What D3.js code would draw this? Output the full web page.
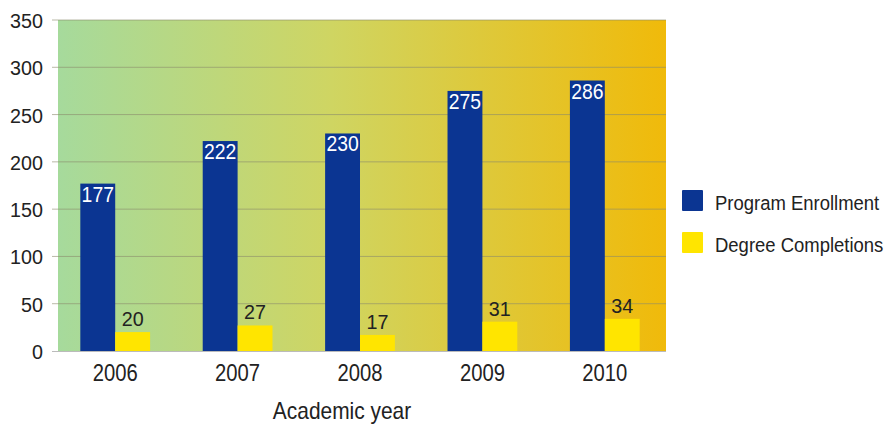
<!DOCTYPE html>
<html><head><meta charset="utf-8">
<script src="https://cdn.jsdelivr.net/npm/d3@7"></script>
<style>body{margin:0;background:#fff;} svg{display:block;}</style>
</head><body>
<svg id="c" width="885" height="424"></svg>
<script>
const years = ["2006","2007","2008","2009","2010"];
const enrollment = [177,222,230,275,286];
const completions = [20,27,17,31,34];
const yTicks = [0,50,100,150,200,250,300,350];
const seriesNames = ["Program Enrollment","Degree Completions"];
const seriesColors = ["#0b3592","#ffe500"];

const svg = d3.select("#c");
const font = "'Liberation Sans', Arial, sans-serif";
const plotL = 58, plotR = 666, plotT = 20, plotB = 351;

const defs = svg.append("defs");
const g = defs.append("linearGradient").attr("id","bg").attr("x1","0").attr("x2","1").attr("y1","0").attr("y2","0");
g.append("stop").attr("offset","0").attr("stop-color","#a6da9c");
g.append("stop").attr("offset","0.45").attr("stop-color","#cfd562");
g.append("stop").attr("offset","1").attr("stop-color","#f0ba0a");

svg.append("rect").attr("x",plotL).attr("y",plotT).attr("width",plotR-plotL).attr("height",plotB-plotT).attr("fill","url(#bg)");

const x = d3.scaleBand().domain(years).range([54,666]).paddingInner(0.43).paddingOuter(0.215);
const xs = d3.scaleBand().domain([0,1]).range([0,x.bandwidth()]);
const y = d3.scaleLinear().domain([0,350]).range([plotB,plotT]);

// gridlines
svg.append("g").selectAll("line").data(yTicks.filter(d=>d>0)).join("line")
  .attr("x1",52).attr("x2",plotR).attr("y1",d=>y(d)).attr("y2",d=>y(d))
  .attr("stroke","#8a8a6a").attr("stroke-opacity",0.6).attr("stroke-width",1);

// y axis
const yAxis = d3.axisLeft(y).tickValues(yTicks).tickSize(0).tickPadding(0);
const ya = svg.append("g").attr("transform",`translate(${43},0)`).call(yAxis);
ya.select(".domain").remove();
ya.selectAll("text").attr("font-family",font).attr("font-size",21).attr("fill","#222")
  .attr("dy","0.36em").attr("transform","scale(0.94,1)");

// bars
const grp = svg.append("g").selectAll("g").data(years).join("g").attr("transform",d=>`translate(${x(d)},0)`);
grp.append("rect").attr("x",xs(0)).attr("width",xs.bandwidth())
  .attr("y",(d,i)=>y(enrollment[i])).attr("height",(d,i)=>y(0)-y(enrollment[i])).attr("fill",seriesColors[0]);
grp.append("rect").attr("x",xs(1)).attr("width",xs.bandwidth())
  .attr("y",(d,i)=>y(completions[i])).attr("height",(d,i)=>y(0)-y(completions[i])).attr("fill",seriesColors[1]);
grp.append("text")
  .attr("transform",(d,i)=>`translate(${xs(0)+xs.bandwidth()/2},${y(enrollment[i])+18}) scale(0.88,1)`)
  .attr("text-anchor","middle").attr("font-family",font).attr("font-size",22).attr("fill","#fff")
  .text((d,i)=>enrollment[i]);
grp.append("text")
  .attr("transform",(d,i)=>`translate(${xs(1)+xs.bandwidth()/2},${y(completions[i])-6}) scale(0.94,1)`)
  .attr("text-anchor","middle").attr("font-family",font).attr("font-size",21).attr("fill","#222")
  .text((d,i)=>completions[i]);

// x axis
svg.append("line").attr("x1",52).attr("x2",plotR).attr("y1",plotB+0.5).attr("y2",plotB+0.5).attr("stroke","#bbb");
const xAxis = d3.axisBottom(x).tickSize(0).tickPadding(0);
const xa = svg.append("g").attr("transform",`translate(0,${plotB+14})`).call(xAxis);
xa.select(".domain").remove();
xa.selectAll("text").attr("font-family",font).attr("font-size",23).attr("fill","#222")
  .attr("dy","0.71em").attr("transform","scale(0.88,1)");

svg.append("text").attr("transform","translate(342,419) scale(0.91,1)").attr("text-anchor","middle")
  .attr("font-family",font).attr("font-size",23).attr("fill","#222").text("Academic year");

// legend
const lg = svg.append("g").selectAll("g").data(seriesNames).join("g")
  .attr("transform",(d,i)=>`translate(682,${190+i*42})`);
lg.append("rect").attr("width",21).attr("height",21).attr("rx",1).attr("fill",(d,i)=>seriesColors[i]);
lg.append("text").attr("transform","translate(33,20) scale(0.88,1)").attr("font-family",font).attr("font-size",21)
  .attr("fill","#222").text(d=>d);
</script>
</body></html>
